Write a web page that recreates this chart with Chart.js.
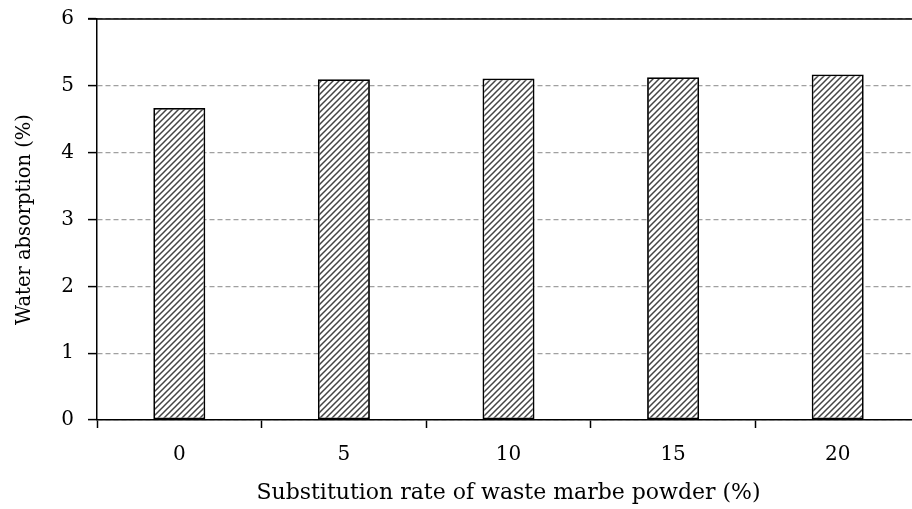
<!DOCTYPE html>
<html>
<head>
<meta charset="utf-8">
<script src="https://cdn.jsdelivr.net/npm/chart.js@4.4.1/dist/chart.umd.min.js"></script>
<style>
  html, body { margin: 0; padding: 0; background: #fff; overflow: hidden; }
  #wrap { width: 912px; height: 509px; overflow: hidden; }
</style>
</head>
<body>
<div id="wrap"><canvas id="absorptionChart" width="930" height="509"></canvas></div>
<script>
// substitution rate categories and measured water absorption
const rates = ['0', '5', '10', '15', '20'];
const absorption = [4.67, 5.10, 5.11, 5.13, 5.17];
const yTicks = [0, 1, 2, 3, 4, 5, 6];

const FONT = '"DejaVu Serif", "Liberation Serif", serif';

function makeHatch() {
  const c = document.createElement('canvas');
  c.width = 6; c.height = 6;
  const g = c.getContext('2d');
  g.fillStyle = '#fff';
  g.fillRect(0, 0, 6, 6);
  g.strokeStyle = '#444';
  g.lineWidth = 1.5;
  g.beginPath();
  g.moveTo(-1, 7); g.lineTo(7, -1);
  g.moveTo(-1, 1); g.lineTo(1, -1);
  g.moveTo(5, 7); g.lineTo(7, 5);
  g.stroke();
  return g.createPattern(c, 'repeat');
}

// solid frame line along the top of the plot
const topBorder = {
  id: 'topBorder',
  afterDraw(chart) {
    const { ctx, chartArea } = chart;
    ctx.save();
    ctx.strokeStyle = '#000';
    ctx.lineWidth = 1.5;
    ctx.beginPath();
    ctx.moveTo(chartArea.left - 9, chartArea.top);
    ctx.lineTo(chartArea.right, chartArea.top);
    ctx.stroke();
    ctx.restore();
  }
};

const ctx = document.getElementById('absorptionChart');
new Chart(ctx, {
  type: 'bar',
  data: {
    labels: rates,
    datasets: [{
      data: absorption,
      backgroundColor: makeHatch(),
      borderColor: '#000',
      borderWidth: 1.8,
      borderSkipped: false,
      barPercentage: 0.316,
      categoryPercentage: 1
    }]
  },
  options: {
    responsive: false,
    animation: false,
    layout: { padding: { top: 19, right: 10, left: 0, bottom: 0 } },
    plugins: { legend: { display: false }, tooltip: { enabled: false } },
    scales: {
      x: {
        offset: true,
        grid: {
          offset: true,
          drawOnChartArea: false,
          drawTicks: true,
          tickLength: 8,
          tickColor: '#000',
          tickWidth: 1.5
        },
        border: { color: '#000', width: 1.5 },
        ticks: { color: '#000', padding: 15, font: { family: FONT, size: 20 } },
        title: {
          display: true,
          text: 'Substitution rate of waste marbe powder (%)',
          color: '#000',
          font: { family: FONT, size: 22 },
          padding: { top: 4, bottom: 3 }
        },
        afterFit(scale) {
          scale.height = 89;
          scale.paddingLeft = 0;
          scale.paddingRight = 0;
        }
      },
      y: {
        min: 0,
        max: 6,
        afterBuildTicks(scale) { scale.ticks = yTicks.map(v => ({ value: v })); },
        grid: {
          color: '#a0a0a0',
          lineWidth: 1.2,
          tickLength: 9,
          tickColor: '#000',
          tickWidth: 1.5,
          tickBorderDash: []
        },
        border: { color: '#000', width: 1.5, dash: [5, 3] },
        ticks: { color: '#000', padding: 14, font: { family: FONT, size: 20 } },
        title: {
          display: true,
          text: 'Water absorption (%)',
          color: '#000',
          font: { family: FONT, size: 19.5 },
          padding: { top: 13, bottom: 4 }
        },
        afterFit(scale) {
          scale.width = 97;
          scale.paddingTop = 0;
          scale.paddingBottom = 0;
        }
      }
    }
  },
  plugins: [topBorder]
});
</script>
</body>
</html>
